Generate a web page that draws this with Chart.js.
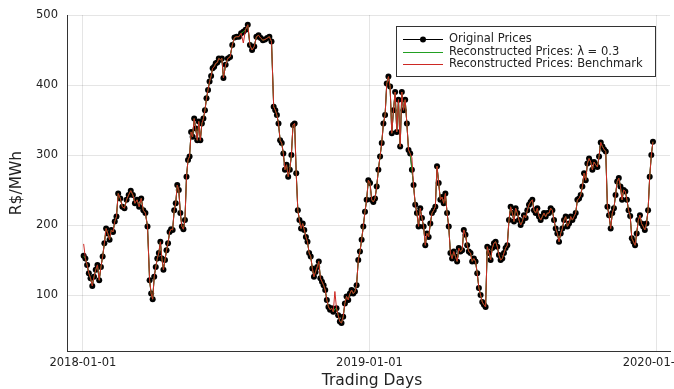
<!DOCTYPE html>
<html>
<head>
<meta charset="utf-8">
<script src="https://cdn.jsdelivr.net/npm/chart.js@4.4.1/dist/chart.umd.min.js"></script>
<style>
  html, body { margin: 0; padding: 0; background: #fff; }
  canvas { display: block; }
</style>
</head>
<body>
<canvas id="priceChart" width="674" height="389"></canvas>
<script>
// Original prices, R$/MWh in order
const prices = [
    156, 152, 143, 131, 124, 113, 126, 136, 143, 121,
    140, 155, 174, 195, 188, 179, 193, 190, 205, 212,
    245, 238, 226, 224, 236, 243, 249, 243, 231, 236,
    226, 238, 221, 217, 198, 121, 102, 94, 126, 140,
    152, 160, 176, 152, 136, 150, 164, 174, 190, 194,
    193, 221, 231, 257, 250, 217, 198, 194, 207, 269,
    293, 298, 333, 326, 352, 338, 321, 348, 321, 345,
    352, 364, 381, 393, 405, 413, 424, 426, 431, 432,
    438, 436, 438, 410, 429, 438, 440, 457, 468, 469,
    469, 474, 476, 479, 486, 457, 450, 455, 469, 471,
    467, 464, 465, 467, 469, 462, 369, 364, 357, 345,
    321, 317, 302, 279, 286, 269, 279, 300, 343, 345,
    274, 221, 207, 195, 202, 193, 183, 176, 160, 155,
    138, 126, 133, 140, 148, 124, 119, 114, 107, 93,
    83, 79, 81, 76, 80, 81, 71, 62, 60, 69,
    88, 98, 93, 102, 107, 102, 105, 114, 150, 162,
    179, 198, 219, 236, 264, 260, 236, 233, 238, 255,
    279, 298, 317, 345, 357, 402, 412, 398, 331, 364,
    390, 333, 379, 312, 390, 364, 379, 345, 307, 302,
    279, 257, 229, 217, 198, 224, 210, 198, 171, 188,
    183, 202, 217, 221, 226, 284, 260, 236, 240, 231,
    245, 217, 198, 160, 152, 162, 155, 148, 167, 162,
    164, 193, 186, 171, 162, 160, 148, 152, 148, 131,
    110, 100, 90, 86, 83, 169, 160, 150, 167, 174,
    176, 169, 157, 150, 152, 160, 167, 171, 207, 226,
    217, 205, 224, 217, 207, 200, 205, 214, 210, 221,
    229, 233, 236, 221, 217, 224, 212, 207, 212, 217,
    212, 217, 217, 224, 221, 207, 195, 188, 176, 188,
    195, 207, 212, 198, 202, 212, 207, 212, 217, 236,
    238, 243, 255, 274, 264, 288, 295, 290, 279, 290,
    286, 283, 298, 318, 312, 308, 305, 226, 214, 195,
    217, 224, 243, 262, 267, 255, 236, 250, 248, 236,
    221, 213, 181, 176, 171, 188, 207, 214, 202, 198,
    193, 202, 221, 269, 300, 319
];

// dates of some of the points (index into prices -> date), points in between are spread evenly
const knotIndex = [0, 20, 35, 58, 83, 94, 106, 145, 235, 307, 335];
const knotDates = ['2018-01-02', '2018-02-15', '2018-03-27', '2018-05-11', '2018-06-29',
    '2018-07-30', '2018-09-01', '2018-11-20', '2019-05-31', '2019-10-31', '2019-12-28'];

// where the benchmark reconstruction leaves the original prices: [index, value]
const benchmarkSpikes = [[0, 173], [92, 460], [144, 105], [190, 296]];

const tickDates = ['2018-01-01', '2019-01-01', '2020-01-01'];
const yTicks = [100, 200, 300, 400, 500];

const DAY = 86400000;
const origin = Date.UTC(2018, 0, 1);
const toDay = s => (Date.parse(s + 'T00:00:00Z') - origin) / DAY;

const xs = [];
for (let k = 0; k < knotIndex.length - 1; k++) {
    const i0 = knotIndex[k], i1 = knotIndex[k + 1];
    const d0 = toDay(knotDates[k]), d1 = toDay(knotDates[k + 1]);
    for (let i = i0; i < i1; i++) xs[i] = d0 + (d1 - d0) * (i - i0) / (i1 - i0);
}
xs[prices.length - 1] = toDay(knotDates[knotDates.length - 1]);

const original = prices.map((v, i) => ({ x: xs[i], y: v }));
const lambda03 = prices.map((v, i) => ({ x: xs[i], y: v }));
const benchVals = prices.slice();
benchmarkSpikes.forEach(([i, v]) => benchVals[i] = v);
const benchmark = benchVals.map((v, i) => ({ x: xs[i], y: v }));

const FONT = 'DejaVu Sans';
const INK = '#222';
const GREEN = 'rgb(34,160,34)';
const RED = 'rgb(205,40,35)';

const legendItems = [
    { label: 'Original Prices', color: '#000', dot: true },
    { label: 'Reconstructed Prices: \u03bb = 0.3', color: GREEN, dot: false },
    { label: 'Reconstructed Prices: Benchmark', color: RED, dot: false }
];

const extras = {
    id: 'extras',
    afterDraw(chart) {
        const c = chart.ctx;
        c.save();
        // axis titles
        c.fillStyle = INK;
        c.font = '15.5px "' + FONT + '"';
        c.textAlign = 'center';
        c.textBaseline = 'middle';
        c.fillText('Trading Days', 372, 381);
        c.translate(17, 183);
        c.rotate(-Math.PI / 2);
        c.fillText('R$/MWh', 0, 0);
        c.restore();

        // legend box
        c.save();
        c.fillStyle = '#fff';
        c.fillRect(396, 26, 260, 51);
        c.strokeStyle = '#333';
        c.lineWidth = 1;
        c.strokeRect(396.5, 26.5, 259, 50);
        c.font = '11.5px "' + FONT + '"';
        c.textBaseline = 'middle';
        c.textAlign = 'left';
        legendItems.forEach((it, k) => {
            const y = [39, 52, 64][k];
            c.strokeStyle = it.color;
            c.lineWidth = 1.2;
            c.beginPath();
            c.moveTo(403, y + 0.5);
            c.lineTo(443, y + 0.5);
            c.stroke();
            if (it.dot) {
                c.fillStyle = '#000';
                c.beginPath();
                c.arc(423, y + 0.5, 3, 0, Math.PI * 2);
                c.fill();
            }
            c.fillStyle = INK;
            c.fillText(it.label, 449, y + 0.5);
        });
        c.restore();
    }
};

new Chart(document.getElementById('priceChart'), {
    type: 'line',
    data: {
        datasets: [{
            label: 'Reconstructed Prices: Benchmark',
            data: benchmark,
            borderColor: RED,
            borderWidth: 1,
            pointRadius: 0,
            order: 0
        }, {
            label: 'Reconstructed Prices: \u03bb = 0.3',
            data: lambda03,
            borderColor: GREEN,
            borderWidth: 1,
            pointRadius: 0,
            order: 1
        }, {
            label: 'Original Prices',
            data: original,
            borderColor: '#000',
            borderWidth: 1,
            pointRadius: 3,
            pointBackgroundColor: '#000',
            pointBorderWidth: 0,
            order: 2
        }]
    },
    options: {
        responsive: false,
        animation: false,
        devicePixelRatio: 1,
        layout: { padding: { top: 15, left: 0, right: 0, bottom: 0 } },
        plugins: { legend: { display: false }, tooltip: { enabled: false } },
        elements: { line: { tension: 0 } },
        scales: {
            x: {
                type: 'linear',
                min: -20.2,
                max: 747.7,
                afterBuildTicks: s => { s.ticks = tickDates.map(d => ({ value: toDay(d) })); },
                afterFit: s => { s.height = 38; s.paddingLeft = 0; s.paddingRight = 0; },
                ticks: {
                    autoSkip: false,
                    maxRotation: 0,
                    padding: 5,
                    color: INK,
                    font: { family: FONT, size: 11.5 },
                    callback: (v, i) => tickDates[i]
                },
                grid: { color: 'rgba(0,0,0,0.1)', lineWidth: 1, drawTicks: false },
                border: { color: '#333', width: 1 }
            },
            y: {
                min: 20,
                max: 500,
                afterBuildTicks: s => { s.ticks = yTicks.map(v => ({ value: v })); },
                afterFit: s => { s.width = 67; s.paddingTop = 0; s.paddingBottom = 0; },
                ticks: {
                    padding: 9,
                    color: INK,
                    font: { family: FONT, size: 11.5 }
                },
                grid: { color: 'rgba(0,0,0,0.1)', lineWidth: 1, drawTicks: false },
                border: { color: '#333', width: 1 }
            }
        }
    },
    plugins: [extras]
});
</script>
</body>
</html>
